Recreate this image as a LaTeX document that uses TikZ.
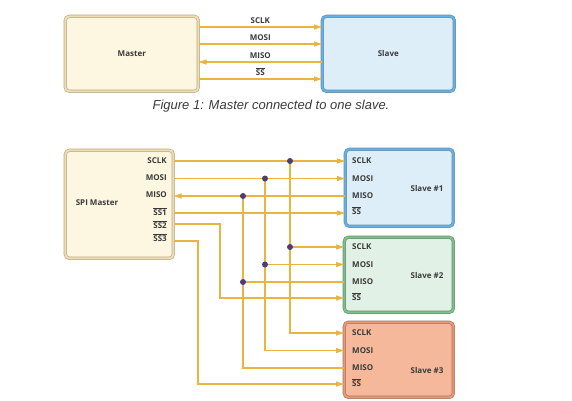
\documentclass[tikz,border=0pt]{standalone}
\usepackage{fontspec}
\setmainfont{Liberation Sans}
\setsansfont{Open Sans}
\usetikzlibrary{arrows.meta}

\definecolor{wirecol}{HTML}{E9B441}
\definecolor{dotcol}{HTML}{523A72}
\definecolor{labelcol}{HTML}{3A3A3A}
\definecolor{mfill}{HTML}{FDF7E1}
\definecolor{mring}{HTML}{EEDDB0}
\definecolor{mline}{HTML}{B8A888}
\definecolor{bfill}{HTML}{DDEEF9}
\definecolor{bring}{HTML}{62B2E6}
\definecolor{bline}{HTML}{6F8FA8}
\definecolor{gfill}{HTML}{E2F1E5}
\definecolor{gring}{HTML}{7DC18B}
\definecolor{gline}{HTML}{6B8C72}
\definecolor{ofill}{HTML}{F6B89B}
\definecolor{oring}{HTML}{E69A74}
\definecolor{oline}{HTML}{A57563}

\tikzset{
  box/.style={rounded corners=4pt, line width=0.6pt, double distance=2pt,
    anchor=north west, inner sep=0pt},
  masterbox/.style={box, draw=mline, double=mring, fill=mfill},
  bluebox/.style={box, draw=bline, double=bring, fill=bfill},
  greenbox/.style={box, draw=gline, double=gring, fill=gfill},
  orangebox/.style={box, draw=oline, double=oring, fill=ofill},
  wire/.style={draw=wirecol, line width=1.2pt},
  tip/.style={-{Triangle[length=8pt,width=5pt]}},
  port/.style={font=\sffamily\bfseries\fontsize{8}{9}\selectfont, text=labelcol, inner sep=0pt},
  dot/.style={circle, fill=dotcol, inner sep=0pt, minimum size=6pt}
}
\newcommand{\ssbar}[1]{$\overline{\mbox{#1}}$}

\begin{document}
\begin{tikzpicture}[x=1pt,y=-1pt]
	\useasboundingbox (0,0) rectangle (572,400);
	% Figure 1
	\node[masterbox, minimum width=133pt, minimum height=75pt] (m) at (65,16) {};
	\node[bluebox, minimum width=132pt, minimum height=75pt] (s) at (322,16) {};
	\node[port] at (m.center) {Master};
	\node[port] at (s.center) {Slave};
	\draw[wire,tip] (m.east |- 0,27) -- (s.west |- 0,27) node[midway,above=3pt,port] {SCLK};
	\draw[wire,tip] (m.east |- 0,44) -- (s.west |- 0,44) node[midway,above=3pt,port] {MOSI};
	\draw[wire,tip] (s.west |- 0,62) -- (m.east |- 0,62) node[midway,above=3pt,port] {MISO};
	\draw[wire,tip] (m.east |- 0,79) -- (s.west |- 0,79) node[midway,above=3pt,port] {\ssbar{SS}};
	\node[font=\itshape\fontsize{13}{15}\selectfont, text=labelcol] (cap) at (271,106)
		{Figure 1: Master connected to one slave.};
	% Figure 2
	\node[masterbox, minimum width=108pt, minimum height=108pt] (sm) at (65,150) {};
	\node[port] at (97,203) {SPI Master};
	\foreach \y/\t in {161/SCLK,178/MOSI,195/MISO,212/\ssbar{SS1},225/\ssbar{SS2},238/\ssbar{SS3}}
		\node[port,anchor=east] at (167,\y) {\t};
	\node[bluebox, minimum width=108pt, minimum height=77pt] (s1) at (345,149) {};
	\node[greenbox, minimum width=109pt, minimum height=75pt] (s2) at (344,237) {};
	\node[orangebox, minimum width=109pt, minimum height=75pt] (s3) at (344,322) {};
	\foreach \s/\b in {s1/161,s2/247,s3/333}{
		\node[port,anchor=west] at (352,\b) {SCLK};
		\node[port,anchor=west] at (352,{\b+17.5}) {MOSI};
		\node[port,anchor=west] at (352,{\b+35}) {MISO};
		\node[port,anchor=west] at (352,{\b+50}) {\ssbar{SS}};
	}
	\node[port] at (427,188) {Slave \#1};
	\node[port] at (427,275) {Slave \#2};
	\node[port] at (427,370) {Slave \#3};
	% bus junctions
	\coordinate (ck1) at (290,161);
	\coordinate (ck2) at (290,247);
	\coordinate (ck3) at (290,333);
	\coordinate (mo1) at (265,178.5);
	\coordinate (mo2) at (265,264.5);
	\coordinate (mo3) at (265,350.5);
	\coordinate (mi1) at (243,196);
	\coordinate (mi2) at (243,282);
	\coordinate (mi3) at (243,368);
	% wires
	\draw[wire,tip] (sm.east |- ck1) -- (s1.west |- ck1);
	\draw[wire,tip] (ck2) -- (s2.west |- ck2);
	\draw[wire,tip] (ck1) -- (ck3) -- (s3.west |- ck3);
	\draw[wire,tip] (sm.east |- mo1) -- (s1.west |- mo1);
	\draw[wire,tip] (mo2) -- (s2.west |- mo2);
	\draw[wire,tip] (mo1) -- (mo3) -- (s3.west |- mo3);
	\draw[wire,tip] (s1.west |- mi1) -- (sm.east |- mi1);
	\draw[wire] (s2.west |- mi2) -- (mi2);
	\draw[wire] (s3.west |- mi3) -- (mi3) -- (mi1);
	\draw[wire,tip] (sm.east |- 0,213) -- (s1.west |- 0,213);
	\draw[wire,tip] (sm.east |- 0,224) -- (220,224) -- (220,298) -- (s2.west |- 0,298);
	\draw[wire,tip] (sm.east |- 0,241) -- (198,241) -- (198,384) -- (s3.west |- 0,384);
	\foreach \d in {ck1,ck2,mo1,mo2,mi1,mi2}
		\node[dot] at (\d) {};
\end{tikzpicture}
\end{document}
